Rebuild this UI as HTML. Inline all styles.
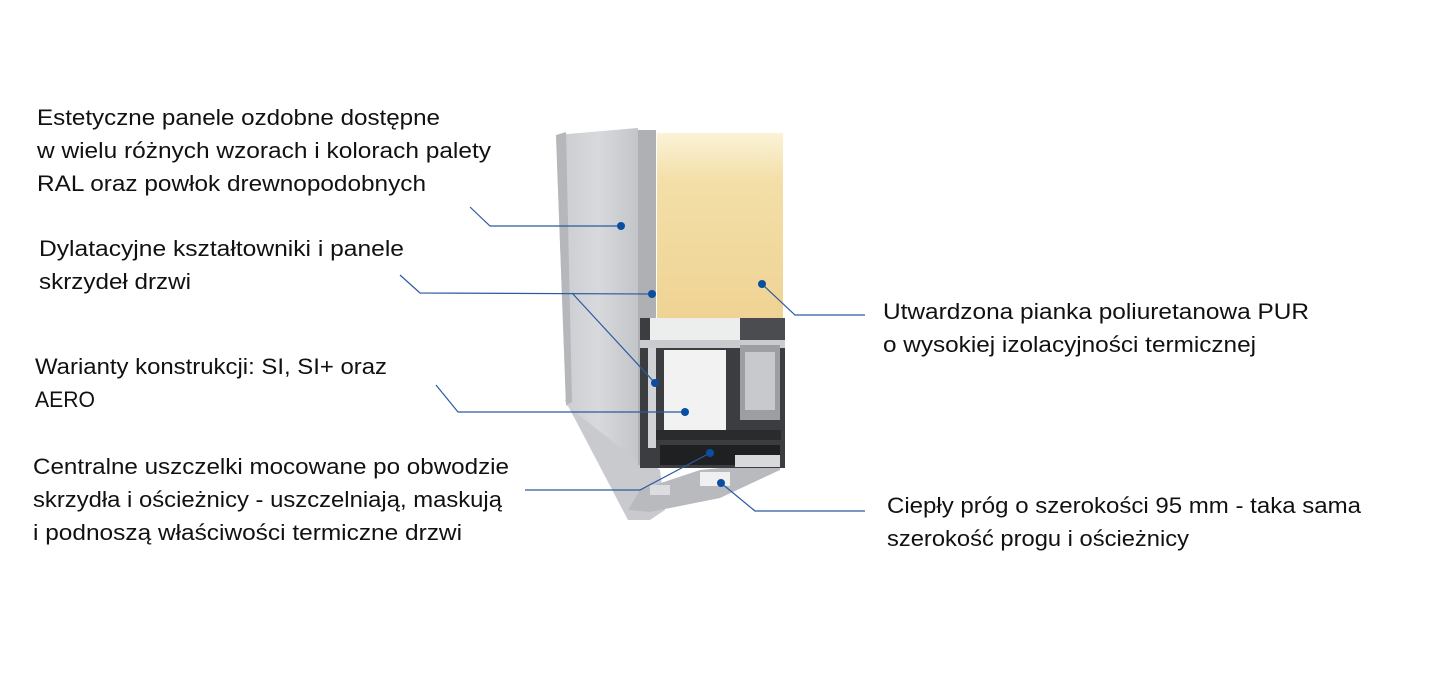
<!DOCTYPE html>
<html><head><meta charset="utf-8"><style>
html,body{margin:0;padding:0;background:#fff;}
svg{display:block;}
text{font-family:"Liberation Sans",sans-serif;font-size:22px;fill:#111;}
</style></head><body>
<svg width="1443" height="692" viewBox="0 0 1443 692" xmlns="http://www.w3.org/2000/svg">
<defs>
<linearGradient id="foam" x1="0" y1="0" x2="0" y2="1">
<stop offset="0" stop-color="#fbf3d8"/><stop offset="0.25" stop-color="#f3dfa8"/><stop offset="1" stop-color="#efd394"/></linearGradient>
<linearGradient id="panel" x1="0" y1="0" x2="1" y2="0">
<stop offset="0" stop-color="#c9cbcf"/><stop offset="0.5" stop-color="#d7d9dc"/><stop offset="1" stop-color="#c2c4c8"/></linearGradient>
</defs>
<!-- threshold -->
<polygon points="565,400 575,395 660,470 665,510 650,520 628,520" fill="#c9cacd"/>
<polygon points="628,510 650,512 720,498 780,470 780,462 700,470 640,490" fill="#b8babd"/>
<!-- grey panel -->
<polygon points="556,135 638,128 640,463 566,405" fill="url(#panel)"/>
<polygon points="556,135 566,132 572,402 566,405" fill="#b5b7bb"/>
<rect x="638" y="130" width="18" height="335" fill="#aeb0b4"/>
<!-- foam -->
<rect x="657" y="133" width="126" height="186" fill="url(#foam)"/>
<!-- profile -->
<rect x="640" y="318" width="145" height="150" fill="#3b3d40"/>
<rect x="650" y="318" width="90" height="22" fill="#eceded"/>
<rect x="740" y="318" width="45" height="22" fill="#4a4c4f"/>
<rect x="640" y="340" width="145" height="8" fill="#c9cbce"/>
<rect x="648" y="348" width="8" height="100" fill="#d0d2d5"/>
<rect x="664" y="350" width="62" height="80" fill="#f2f2f2"/>
<rect x="740" y="345" width="40" height="75" fill="#9c9ea2"/>
<rect x="745" y="352" width="30" height="58" fill="#c7c9cc"/>
<rect x="656" y="430" width="125" height="10" fill="#2a2b2d"/>
<rect x="660" y="445" width="120" height="20" fill="#1f2022"/>
<rect x="700" y="472" width="30" height="14" fill="#f0f0f0"/>
<rect x="735" y="455" width="45" height="12" fill="#d8d9db"/>
<rect x="650" y="485" width="20" height="10" fill="#dcdde0"/>
<!-- connectors -->
<g stroke="#2a5aa0" stroke-width="1.2" fill="none">
<polyline points="470,207 490,226 621,226"/>
<polyline points="400,275 420,293 652,294"/>
<polyline points="572,293 655,383"/>
<polyline points="436,385 458,412 685,412"/>
<polyline points="525,490 640,490 710,453"/>
<polyline points="762,284 795,315 865,315"/>
<polyline points="721,483 755,511 865,511"/>
</g>
<g fill="#0a4ea0">
<circle cx="621" cy="226" r="4"/><circle cx="652" cy="294" r="4"/>
<circle cx="762" cy="284" r="4"/><circle cx="655" cy="383" r="4"/>
<circle cx="685" cy="412" r="4"/><circle cx="710" cy="453" r="4"/>
<circle cx="721" cy="483" r="4"/>
</g>
<g lengthAdjust="spacingAndGlyphs">
<text x="37" y="125" textLength="403" lengthAdjust="spacingAndGlyphs">Estetyczne panele ozdobne dostępne</text>
<text x="37" y="158" textLength="454" lengthAdjust="spacingAndGlyphs">w wielu różnych wzorach i kolorach palety</text>
<text x="37" y="191" textLength="389" lengthAdjust="spacingAndGlyphs">RAL oraz powłok drewnopodobnych</text>
<text x="39" y="256" textLength="365" lengthAdjust="spacingAndGlyphs">Dylatacyjne kształtowniki i panele</text>
<text x="39" y="289" textLength="152" lengthAdjust="spacingAndGlyphs">skrzydeł drzwi</text>
<text x="35" y="374" textLength="352" lengthAdjust="spacingAndGlyphs">Warianty konstrukcji: SI, SI+ oraz</text>
<text x="35" y="407" textLength="60" lengthAdjust="spacingAndGlyphs">AERO</text>
<text x="33" y="474" textLength="476" lengthAdjust="spacingAndGlyphs">Centralne uszczelki mocowane po obwodzie</text>
<text x="33" y="507" textLength="469" lengthAdjust="spacingAndGlyphs">skrzydła i ościeżnicy - uszczelniają, maskują</text>
<text x="33" y="540" textLength="429" lengthAdjust="spacingAndGlyphs">i podnoszą właściwości termiczne drzwi</text>
<text x="883" y="319" textLength="426" lengthAdjust="spacingAndGlyphs">Utwardzona pianka poliuretanowa PUR</text>
<text x="883" y="352" textLength="373" lengthAdjust="spacingAndGlyphs">o wysokiej izolacyjności termicznej</text>
<text x="887" y="513" textLength="474" lengthAdjust="spacingAndGlyphs">Ciepły próg o szerokości 95 mm - taka sama</text>
<text x="887" y="546" textLength="302" lengthAdjust="spacingAndGlyphs">szerokość progu i ościeżnicy</text>
</g>
</svg>
</body></html>
